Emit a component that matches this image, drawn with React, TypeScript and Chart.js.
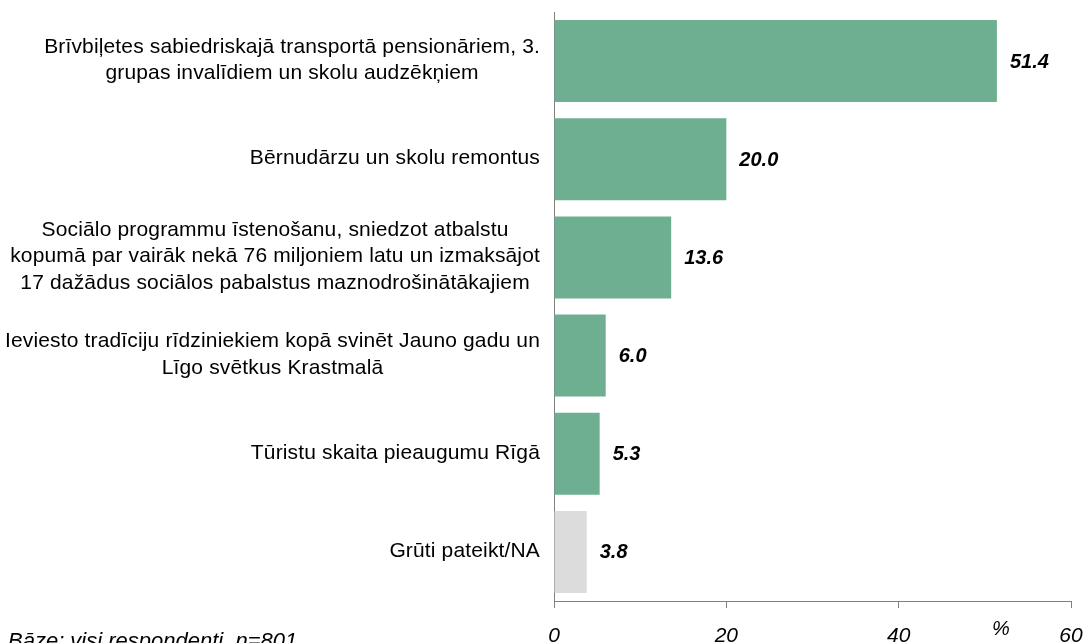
import React, { useEffect, useRef } from "react";
import { Chart, registerables } from "chart.js";

Chart.register(...registerables);

const categories: string[][] = [
  ["Brīvbiļetes sabiedriskajā transportā pensionāriem, 3.", "grupas invalīdiem un skolu audzēkņiem"],
  ["Bērnudārzu un skolu remontus"],
  [
    "Sociālo programmu īstenošanu, sniedzot atbalstu",
    "kopumā par vairāk nekā 76 miljoniem latu un izmaksājot",
    "17 dažādus sociālos pabalstus maznodrošinātākajiem",
  ],
  ["Ieviesto tradīciju rīdziniekiem kopā svinēt Jauno gadu un", "Līgo svētkus Krastmalā"],
  ["Tūristu skaita pieaugumu Rīgā"],
  ["Grūti pateikt/NA"],
];
const values: number[] = [51.4, 20.0, 13.6, 6.0, 5.3, 3.8];
const barColors: string[] = ["#6FAF91", "#6FAF91", "#6FAF91", "#6FAF91", "#6FAF91", "#DCDCDC"];
const xTickValues: number[] = [0, 20, 40, 60];
const axisUnit = "%";
const footnote = "Bāze: visi respondenti, n=801";

const FONT = "'Liberation Sans', Arial, sans-serif";

const textPlugin = {
  id: "customText",
  afterDraw(chart: any) {
    const ctx = chart.ctx as CanvasRenderingContext2D;
    const yScale = chart.scales.y;
    const area = chart.chartArea;
    ctx.save();
    // category labels
    ctx.fillStyle = "#000";
    ctx.font = `21px ${FONT}`;
    (ctx as any).letterSpacing = "0.15px";
    ctx.textBaseline = "middle";
    ctx.textAlign = "center";
    const lineH = 26.5;
    const rightEdge = area.left - 14;
    categories.forEach((lines, i) => {
      const cy = yScale.getPixelForValue(i);
      const maxW = Math.max(...lines.map((l) => ctx.measureText(l).width));
      const cx = rightEdge - maxW / 2;
      const start = cy - ((lines.length - 1) * lineH) / 2 - 1;
      lines.forEach((l, j) => ctx.fillText(l, cx, start + j * lineH));
    });
    // value labels
    (ctx as any).letterSpacing = "0px";
    ctx.font = `italic bold 20px ${FONT}`;
    ctx.textAlign = "left";
    const meta = chart.getDatasetMeta(0);
    meta.data.forEach((bar: any, i: number) => {
      ctx.fillText(values[i].toFixed(1), bar.x + 13, bar.y + 1);
    });
    // unit
    ctx.font = `italic 20px ${FONT}`;
    ctx.textAlign = "center";
    ctx.fillText(axisUnit, 1001, 629);
    // footnote
    ctx.font = `italic 22px ${FONT}`;
    ctx.textAlign = "left";
    ctx.textBaseline = "alphabetic";
    ctx.fillText(footnote, 8, 648);
    ctx.restore();
  },
};

export default function App() {
  const ref = useRef<HTMLCanvasElement>(null);
  useEffect(() => {
    if (!ref.current) return;
    const chart = new Chart(ref.current, {
      type: "bar",
      data: {
        labels: categories as any,
        datasets: [
          {
            data: values,
            backgroundColor: barColors,
            borderWidth: 0,
            barPercentage: 0.835,
            categoryPercentage: 1,
          },
        ],
      },
      options: {
        indexAxis: "y",
        animation: false,
        responsive: false,
        maintainAspectRatio: false,
        layout: { padding: { left: 554, right: 16, top: 12, bottom: 0 } },
        plugins: {
          legend: { display: false },
          tooltip: { enabled: false },
          title: { display: false },
        },
        scales: {
          y: {
            type: "category",
            ticks: { display: false },
            grid: { display: false },
            border: { display: true, color: "#808080", width: 1 },
            afterFit: (scale: any) => {
              scale.width = 0;
            },
          },
          x: {
            type: "linear",
            min: 0,
            max: 60,
            afterBuildTicks: (scale: any) => {
              scale.ticks = xTickValues.map((v) => ({ value: v }));
            },
            afterFit: (scale: any) => {
              scale.height = 42;
              scale.paddingRight = 0;
              scale.paddingLeft = 0;
            },
            ticks: {
              color: "#000",
              font: { family: FONT, size: 21, style: "italic" },
              padding: 16,
              maxRotation: 0,
            },
            grid: {
              display: true,
              drawOnChartArea: false,
              drawTicks: true,
              tickLength: 7,
              color: "#808080",
            },
            border: { display: true, color: "#808080", width: 1 },
          },
        },
      },
      plugins: [textPlugin],
    });
    return () => chart.destroy();
  }, []);
  return (
    <div style={{ position: "fixed", left: 0, top: 0, width: 1087, height: 643, background: "#fff" }}>
      <canvas ref={ref} width={1087} height={643} style={{ display: "block" }} />
    </div>
  );
}
